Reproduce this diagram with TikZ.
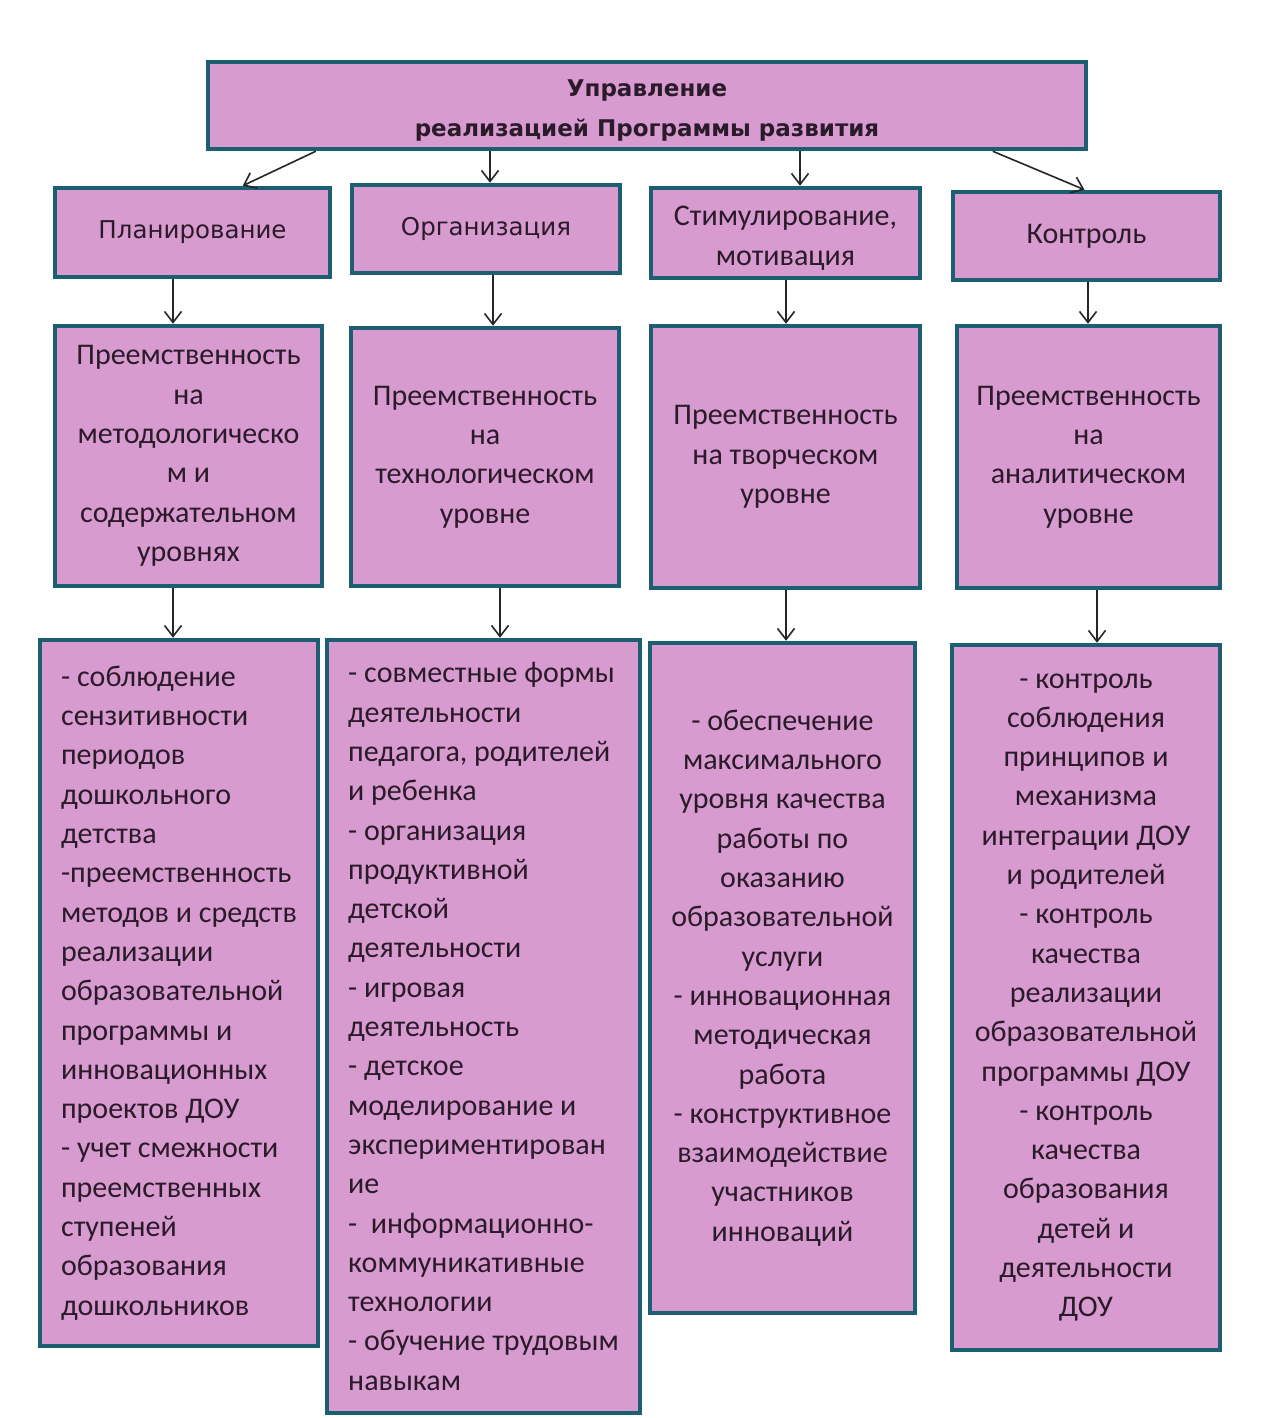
\documentclass[tikz,border=0pt]{standalone}
\usepackage{fontspec}
\setmainfont{Carlito}
\newfontfamily\dvfont{DejaVu Sans}
\usetikzlibrary{arrows.meta,calc}
\definecolor{boxfill}{HTML}{D89BCF}
\definecolor{boxborder}{HTML}{1C5E72}
\definecolor{txt}{HTML}{2A1A2A}
\tikzset{
  box/.style={rectangle, draw=boxborder, fill=boxfill, line width=4.5pt, inner sep=0pt, text=txt},
  body/.style={font=\fontsize{30}{39.3}\selectfont},
  dvtxt/.style={font=\dvfont\fontsize{24.5}{34}\selectfont},
  arr/.style={draw=black!85, line width=1.6pt, -{Straight Barb[length=11pt,width=17pt,line width=1.6pt]}}
}
\begin{document}
\begin{tikzpicture}[x=1pt,y=-1pt]
\useasboundingbox (0,0) rectangle (1275,1418);
\fill[white] (0,0) rectangle (1275,1418);

% top
\node[box, minimum width=878pt, minimum height=87pt, align=center,
      font=\dvfont\bfseries\fontsize{23}{40}\selectfont] (top) at (647,105.5)
  {\rule{0pt}{27pt}Управление\\реализацией Программы развития};

% row 2
\node[box, dvtxt, minimum width=275pt, minimum height=89pt] (plan) at (192.5,232.5) {Планирование};
\node[box, dvtxt, minimum width=268pt, minimum height=88pt] (org) at (486,229) {Организация};
\node[box, body, align=center, minimum width=269pt, minimum height=90pt] (stim) at (785.5,233) {\rule{0pt}{30pt}Стимулирование,\\мотивация};
\node[box, body, minimum width=267pt, minimum height=88pt] (kont) at (1086.5,236) {Контроль};

% row 3
\node[box, body, align=center, minimum width=267pt, minimum height=260pt] (p1) at (188.5,456)
  {Преемственность\\на\\методологическо\\м и\\содержательном\\уровнях};
\node[box, body, align=center, minimum width=268pt, minimum height=258pt] (p2) at (485,457)
  {Преемственность\\на\\технологическом\\уровне};
\node[box, body, align=center, minimum width=269pt, minimum height=262pt] (p3) at (785.5,457)
  {Преемственность\\на творческом\\уровне};
\node[box, body, align=center, minimum width=263pt, minimum height=262pt] (p4) at (1088.5,457)
  {Преемственность\\на\\аналитическом\\уровне};

% row 4
\node[box, body, align=left, minimum width=278pt, minimum height=706pt] (d1) at (179,993)
  {- соблюдение\\сензитивности\\периодов\\дошкольного\\детства\\-преемственность\\методов и средств\\реализации\\образовательной\\программы и\\инновационных\\проектов ДОУ\\- учет смежности\\преемственных\\ступеней\\образования\\дошкольников};
\node[box, body, align=left, minimum width=313pt, minimum height=773pt] (d2) at (483.5,1026.5)
  {- совместные формы\\деятельности\\педагога, родителей\\и ребенка\\- организация\\продуктивной\\детской\\деятельности\\- игровая\\деятельность\\- детское\\моделирование и\\экспериментирован\\ие\\-\ \ информационно-\\коммуникативные\\технологии\\- обучение трудовым\\навыкам};
\node[box, body, align=center, minimum width=265pt, minimum height=670pt] (d3) at (782.5,978)
  {- обеспечение\\максимального\\уровня качества\\работы по\\оказанию\\образовательной\\услуги\\- инновационная\\методическая\\работа\\- конструктивное\\взаимодействие\\участников\\инноваций};
\node[box, body, align=center, minimum width=268pt, minimum height=705pt] (d4) at (1086,997.5)
  {- контроль\\соблюдения\\принципов и\\механизма\\интеграции ДОУ\\и родителей\\- контроль\\качества\\реализации\\образовательной\\программы ДОУ\\- контроль\\качества\\образования\\детей и\\деятельности\\ДОУ};

% connectors from top
\draw[arr] ($(top.south west)+(110,0)$) -- ($(plan.north west)+(190,0)$);
\coordinate (c2) at ($(org.north)+(4,0)$);
\draw[arr] (top.south -| c2) -- (c2);
\coordinate (c3) at ($(stim.north)+(14.5,0)$);
\draw[arr] (top.south -| c3) -- (c3);
\draw[arr] ($(top.south west)+(787,0)$) -- ($(kont.north)+(-2,0)$);

% column connectors
\coordinate (x1a) at (173,0);
\coordinate (x2a) at (493,0);
\coordinate (x3a) at (786,0);
\coordinate (x4a) at (1088,0);
\coordinate (x1b) at (173,0);
\coordinate (x2b) at (500,0);
\coordinate (x3b) at (786,0);
\coordinate (x4b) at (1097,0);
\draw[arr] (plan.south -| x1a) -- (p1.north -| x1a);
\draw[arr] (org.south -| x2a) -- (p2.north -| x2a);
\draw[arr] (stim.south -| x3a) -- (p3.north -| x3a);
\draw[arr] (kont.south -| x4a) -- (p4.north -| x4a);
\draw[arr] (p1.south -| x1b) -- (d1.north -| x1b);
\draw[arr] (p2.south -| x2b) -- (d2.north -| x2b);
\draw[arr] (p3.south -| x3b) -- (d3.north -| x3b);
\draw[arr] (p4.south -| x4b) -- (d4.north -| x4b);
\end{tikzpicture}
\end{document}
